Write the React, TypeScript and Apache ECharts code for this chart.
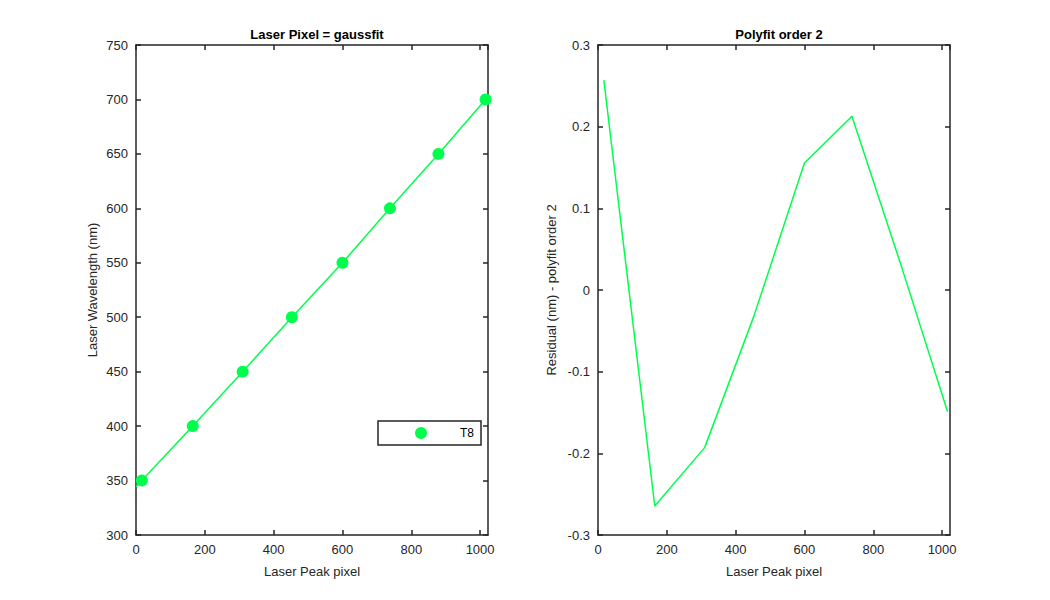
import React, { useEffect, useRef } from "react";
import * as echarts from "echarts";

const peakPixel = [17, 165, 310, 453, 600, 738, 879, 1016];
const wavelength = [350, 400, 450, 500, 550, 600, 650, 700];
const fitPixel = [0, 17, 165, 310, 453, 600, 738, 879, 1016, 1023];
const fitWavelength = [344.3, 350, 400, 450, 500, 550, 600, 650, 700, 703.8];
const residual = [0.257, -0.2645, -0.193, -0.032, 0.1555, 0.2127, 0.0326, -0.149];
const leftYTicks = { min: 300, max: 750, interval: 50 };
const rightYTicks = { min: -0.3, max: 0.3, interval: 0.1 };
const xTicks = { min: 0, max: 1023, interval: 200 };

const GREEN = "#00ff4c";
const AXIS = "#262626";
const FONT = "'Liberation Sans', Arial, Helvetica, sans-serif";

export default function App() {
  const ref = useRef<HTMLDivElement>(null);
  useEffect(() => {
    if (!ref.current) return;
    const chart = echarts.init(ref.current, undefined, { renderer: "svg" });
    const axisLine = { show: true, onZero: false, lineStyle: { color: AXIS, width: 1.5 } };
    const axisTick = { show: true, inside: true, length: 5, lineStyle: { color: AXIS, width: 1.5 } };
    const axisLabel = { color: AXIS, fontSize: 13, fontFamily: FONT };
    const nameStyle = { color: AXIS, fontSize: 13, fontFamily: FONT };
    const fmt = (v: number) => String(Math.round(v * 1000) / 1000);
    const xBase = (grid: number, pos: "bottom" | "top") => ({
      type: "value",
      gridIndex: grid,
      position: pos,
      min: xTicks.min,
      max: xTicks.max,
      interval: xTicks.interval,
      axisLine,
      axisTick,
      splitLine: { show: false },
      axisLabel: pos === "bottom" ? { ...axisLabel, margin: 8, showMaxLabel: false, formatter: fmt } : { show: false },
      name: pos === "bottom" ? "Laser Peak pixel" : "",
      nameLocation: "middle",
      nameGap: 30,
      nameTextStyle: nameStyle,
    });
    const yBase = (grid: number, pos: "left" | "right", t: any, name: string, gap: number) => ({
      type: "value",
      gridIndex: grid,
      position: pos,
      min: t.min,
      max: t.max,
      interval: t.interval,
      axisLine,
      axisTick,
      splitLine: { show: false },
      axisLabel: pos === "left" ? { ...axisLabel, margin: 8, formatter: fmt } : { show: false },
      name: pos === "left" ? name : "",
      nameLocation: "middle",
      nameGap: gap,
      nameRotate: 90,
      nameTextStyle: nameStyle,
    });
    chart.setOption({
      animation: false,
      backgroundColor: "#ffffff",
      title: [
        { text: "Laser Pixel = gaussfit", left: 312, top: 23, textAlign: "center", textStyle: { fontSize: 13, fontWeight: "bold", color: "#000", fontFamily: FONT } },
        { text: "Polyfit order 2", left: 774, top: 23, textAlign: "center", textStyle: { fontSize: 13, fontWeight: "bold", color: "#000", fontFamily: FONT } },
      ],
      legend: {
        data: [{ name: "T8", icon: "circle" }],
        left: 378,
        top: 421,
        orient: "horizontal",
        itemWidth: 12,
        itemHeight: 12,
        padding: [6, 7, 6, 37],
        borderColor: AXIS,
        borderWidth: 1.5,
        backgroundColor: "#fff",
        textStyle: { color: "#000", fontSize: 12, fontFamily: FONT, padding: [0, 0, 0, 28] },
      },
      grid: [
        { left: 136, top: 45, width: 352, height: 490, containLabel: false },
        { left: 598, top: 45, width: 352, height: 490, containLabel: false },
      ],
      xAxis: [xBase(0, "bottom"), xBase(0, "top"), xBase(1, "bottom"), xBase(1, "top")],
      yAxis: [
        yBase(0, "left", leftYTicks, "Laser Wavelength (nm)", 37),
        yBase(0, "right", leftYTicks, "", 0),
        yBase(1, "left", rightYTicks, "Residual (nm) - polyfit order 2", 40),
        yBase(1, "right", rightYTicks, "", 0),
      ],
      series: [
        {
          type: "line",
          name: "fit",
          xAxisIndex: 0,
          yAxisIndex: 0,
          data: fitPixel.map((x, i) => [x, fitWavelength[i]]),
          showSymbol: false,
          symbol: "none",
          lineStyle: { color: GREEN, width: 1.5 },
          clip: true,
          z: 2,
        },
        {
          type: "scatter",
          name: "T8",
          xAxisIndex: 0,
          yAxisIndex: 0,
          data: peakPixel.map((x, i) => [x, wavelength[i]]),
          symbol: "circle",
          symbolSize: 12,
          itemStyle: { color: GREEN, opacity: 1 },
          clip: false,
          z: 3,
        },
        {
          type: "line",
          name: "residual",
          xAxisIndex: 2,
          yAxisIndex: 2,
          data: peakPixel.map((x, i) => [x, residual[i]]),
          showSymbol: false,
          symbol: "none",
          lineStyle: { color: GREEN, width: 1.5 },
          z: 2,
        },
      ],
    });
    return () => chart.dispose();
  }, []);
  return (
    <div
      ref={ref}
      style={{ position: "fixed", left: 0, top: 0, width: 1050, height: 600, background: "#fff" }}
    />
  );
}
